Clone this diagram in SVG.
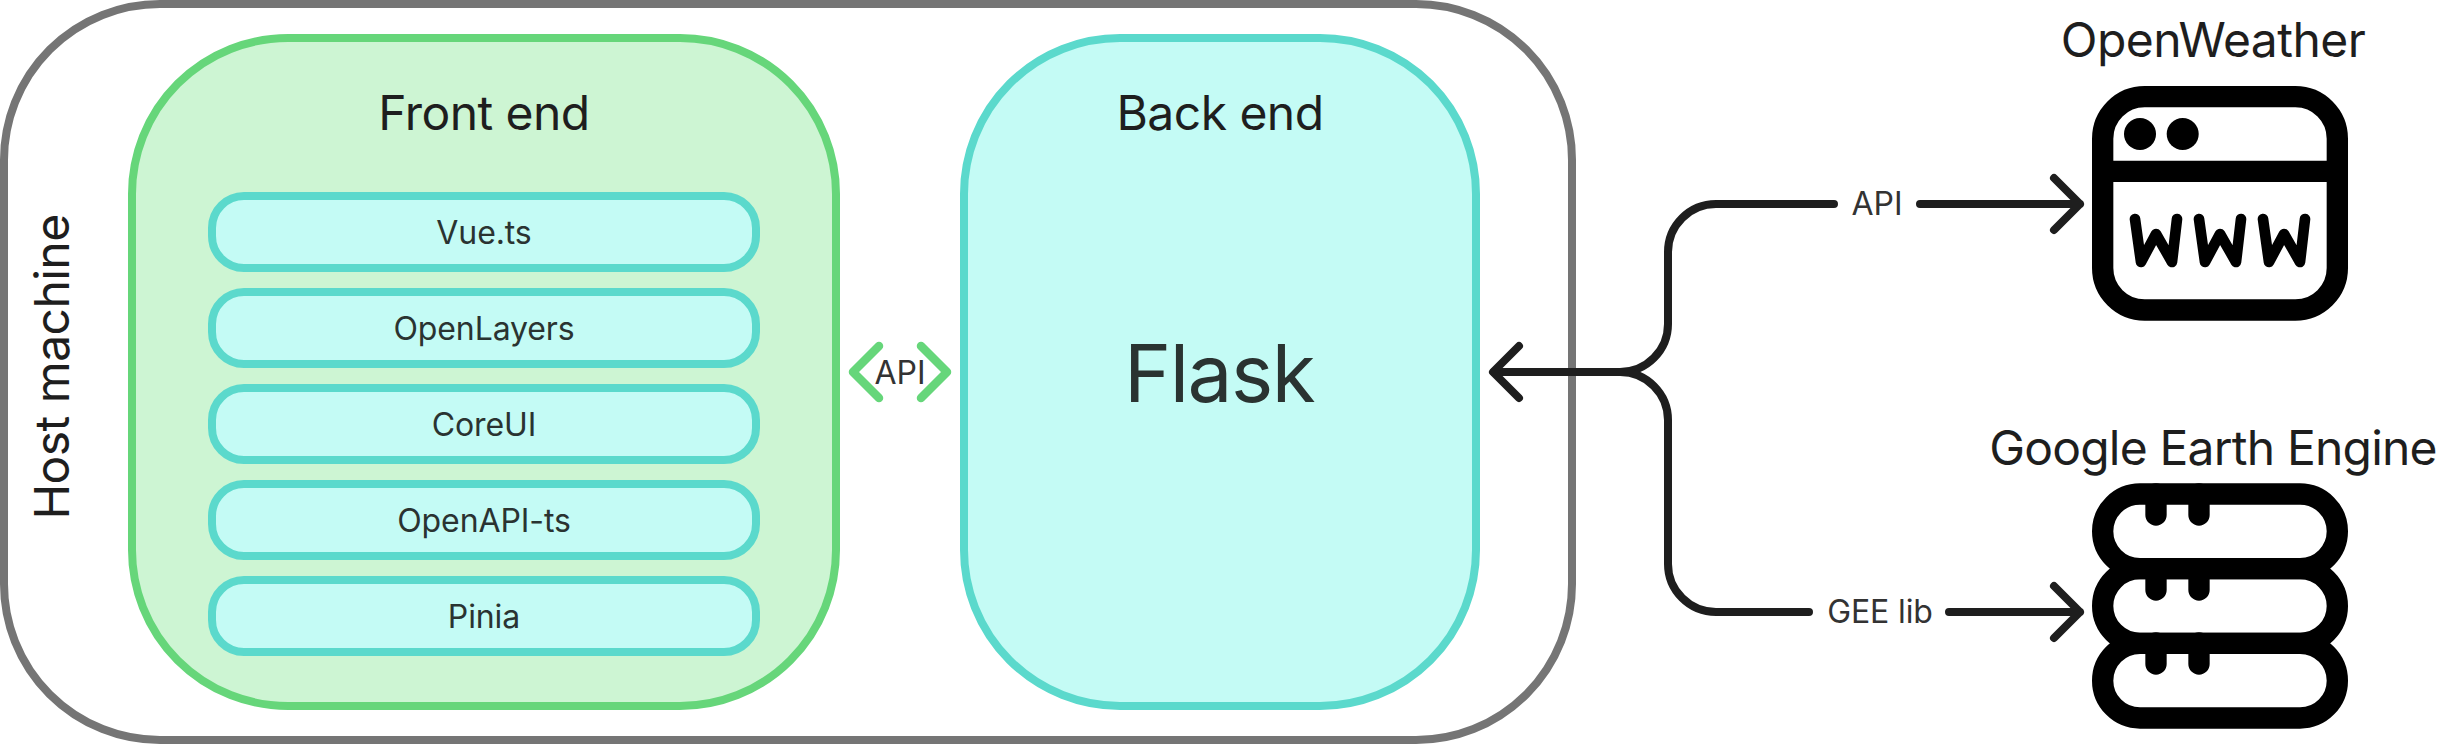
<svg xmlns="http://www.w3.org/2000/svg" width="2438" height="744" viewBox="0 0 2438 744">
<style>
text{font-family:Inter,"Noto Sans","Liberation Sans",sans-serif;text-anchor:middle}
.title{font-size:48px;fill:#1e1e1e;letter-spacing:-.55px}
.row{font-size:32px;fill:#2a3331;letter-spacing:-.1px}
.lab{font-size:32px;fill:#333;letter-spacing:-.1px}
.box{stroke-width:8}
.item{fill:#c4fbf5;stroke:#5bd9cc;stroke-width:8}
.conn{fill:none;stroke:#1e1e1e;stroke-width:8;stroke-linecap:round;stroke-linejoin:round}
.chev{fill:none;stroke:#66d67a;stroke-width:8.5;stroke-linecap:round;stroke-linejoin:round}
.ico{fill:none;stroke:#000;stroke-width:21.33;stroke-linecap:round;stroke-linejoin:round}
.www{fill:none;stroke:#000;stroke-width:10.67;stroke-linecap:round;stroke-linejoin:round}
</style>
<g id="host"><rect class="box" x="4" y="4" width="1568" height="736" rx="156" fill="#fff" stroke="#757575"/>
<text class="title" transform="translate(69 367) rotate(-90)">Host machine</text></g>
<g id="frontend"><rect class="box" x="132" y="38" width="704" height="668" rx="156" fill="#cdf5d3" stroke="#66d67a"/>
<text class="title" x="484" y="130">Front end</text></g>
<g id="vue"><rect class="item" x="212" y="196" width="544" height="72" rx="32"/><text class="row" x="484" y="244">Vue.ts</text></g>
<g id="openlayers"><rect class="item" x="212" y="292" width="544" height="72" rx="32"/><text class="row" x="484" y="340">OpenLayers</text></g>
<g id="coreui"><rect class="item" x="212" y="388" width="544" height="72" rx="32"/><text class="row" x="484" y="436">CoreUI</text></g>
<g id="openapi"><rect class="item" x="212" y="484" width="544" height="72" rx="32"/><text class="row" x="484" y="532">OpenAPI-ts</text></g>
<g id="pinia"><rect class="item" x="212" y="580" width="544" height="72" rx="32"/><text class="row" x="484" y="628">Pinia</text></g>
<g id="backend"><rect class="box" x="964" y="38" width="512" height="668" rx="156" fill="#c4fbf5" stroke="#5bd9cc"/>
<text class="title" x="1220" y="130">Back end</text>
<text x="1219" y="402" font-size="80" letter-spacing="-1.5" fill="#2a3331">Flask</text></g>
<g id="connectors">
<path class="chev" d="M879 346L853 372L879 398M921 346L947 372L921 398"/>
<path class="conn" d="M1834 204H1716A48 48 0 0 0 1668 252V324A48 48 0 0 1 1620 372H1494"/>
<path class="conn" d="M1809 612H1716A48 48 0 0 1 1668 564V420A48 48 0 0 0 1620 372"/>
<path class="conn" d="M1519 346L1493 372L1519 398"/>
<path class="conn" d="M1920 204H2080M2054 178L2080 204L2054 230"/>
<path class="conn" d="M1949 612H2080M2054 586L2080 612L2054 638"/>
<text class="lab" x="1877" y="215">API</text>
<text class="lab" x="1880" y="623">GEE lib</text>
<text class="lab" x="900" y="384">API</text>
</g>
<g id="openweather"><text class="title" x="2213" y="57">OpenWeather</text>
<rect class="ico" x="2102.67" y="96.67" width="234.67" height="213.33" rx="42"/>
<path class="ico" d="M2103 171.3H2337" style="stroke-linecap:butt"/>
<circle cx="2140" cy="134" r="16"/><circle cx="2182.7" cy="134" r="16"/>
<path class="www" d="M2135 219L2141 262L2156 234L2172 262L2177 219"/>
<path class="www" d="M2199 219L2205 262L2220 234L2236 262L2241 219"/>
<path class="www" d="M2263 219L2269 262L2284 234L2300 262L2305 219"/>
</g>
<g id="gee"><text class="title" x="2213" y="465" style="letter-spacing:-.8px">Google Earth Engine</text>
<rect class="ico" x="2102.67" y="494" width="234.67" height="74.67" rx="37.33"/>
<rect class="ico" x="2102.67" y="568.67" width="234.67" height="74.67" rx="37.33"/>
<rect class="ico" x="2102.67" y="643.33" width="234.67" height="74.67" rx="37.33"/>
<path class="ico" d="M2156 494V515M2199 494V515M2156 569V590M2199 569V590M2156 643V664M2199 643V664"/>
</g>
</svg>
